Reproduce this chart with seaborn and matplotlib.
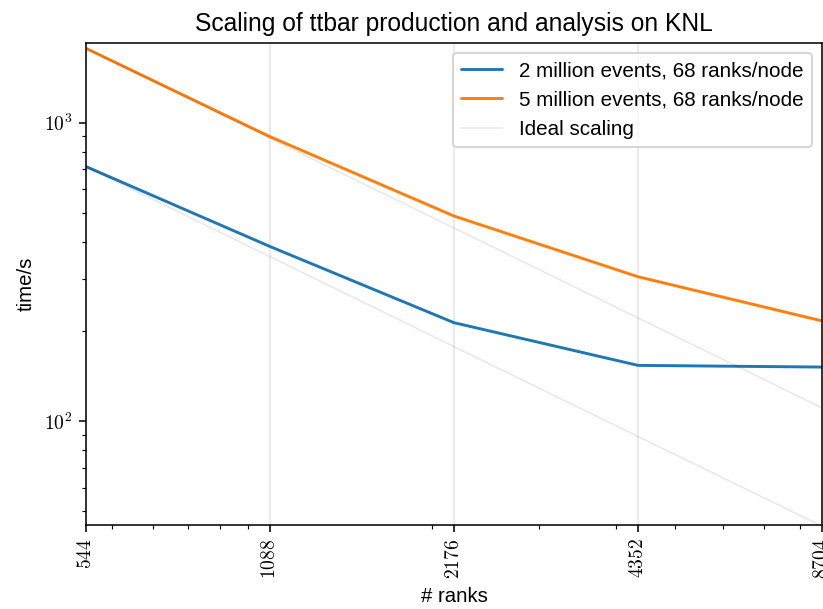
"""Scaling of ttbar production and analysis on KNL (log-log)."""
import matplotlib

matplotlib.use("Agg")
import matplotlib.pyplot as plt
import numpy as np
import seaborn as sns
from matplotlib.ticker import FuncFormatter, LogLocator, NullFormatter

ranks = [544, 1088, 2176, 4352, 8704]
time_2m = [713, 385, 214, 154, 152]
time_5m = [1774, 898, 487, 305, 217]
ideal_2m = [713, 356, 178, 89, 44.6]
ideal_5m = [1774, 887, 444, 222, 111]

label_2m = "2 million events, 68 ranks/node"
label_5m = "5 million events, 68 ranks/node"
label_ideal = "Ideal scaling"


def main():
    sns.set_style("ticks")
    plt.rcParams["font.family"] = ["Liberation Sans", "DejaVu Sans"]
    plt.rcParams["mathtext.fontset"] = "cm"
    plt.rcParams["axes.edgecolor"] = "black"
    plt.rcParams["xtick.color"] = "black"
    plt.rcParams["ytick.color"] = "black"
    plt.rcParams["text.color"] = "black"
    plt.rcParams["axes.labelcolor"] = "black"

    fig, ax = plt.subplots(figsize=(823 / 140, 609 / 140), dpi=140)
    fig.subplots_adjust(left=0.1045, right=0.9988, top=0.930, bottom=0.138)

    sns.lineplot(x=ranks, y=time_2m, color="#1f77b4", lw=1.5, label=label_2m, ax=ax)
    sns.lineplot(x=ranks, y=time_5m, color="#ff7f0e", lw=1.5, label=label_5m, ax=ax)
    sns.lineplot(x=ranks, y=ideal_2m, color="k", alpha=0.09, lw=0.8,
                 label=label_ideal, ax=ax)
    sns.lineplot(x=ranks, y=ideal_5m, color="k", alpha=0.09, lw=0.8,
                 legend=False, ax=ax)

    ax.set_xscale("log")
    ax.set_yscale("log")
    ax.set_xlim(ranks[0], ranks[-1])
    ax.set_ylim(45, 1854)

    ax.set_xticks(ranks, [f"${r}$" for r in ranks], rotation=90)
    ax.xaxis.set_minor_locator(LogLocator(base=10, subs=np.arange(1, 10)))
    ax.xaxis.set_minor_formatter(NullFormatter())
    ax.yaxis.set_major_formatter(
        FuncFormatter(lambda v, _: f"$10^{{{int(round(np.log10(v)))}}}$"))
    ax.yaxis.set_minor_formatter(NullFormatter())
    ax.tick_params(which="major", length=3.5, width=0.8, labelsize=10)
    ax.tick_params(which="minor", length=2, width=0.6)

    for s in ax.spines.values():
        s.set_visible(True)
        s.set_linewidth(0.8)

    ax.grid(axis="x", which="major", color="0.9", lw=0.8)
    ax.set_axisbelow(True)

    ax.set_xlabel("# ranks", fontsize=10.5)
    ax.set_ylabel("time/s", fontsize=10.5)
    ax.set_title("Scaling of ttbar production and analysis on KNL", fontsize=12.7)
    ax.legend(loc="upper right", fontsize=10.6, frameon=True)

    fig.savefig("out.png", dpi=140)
    return 0


if __name__ == "__main__":
    raise SystemExit(main())
